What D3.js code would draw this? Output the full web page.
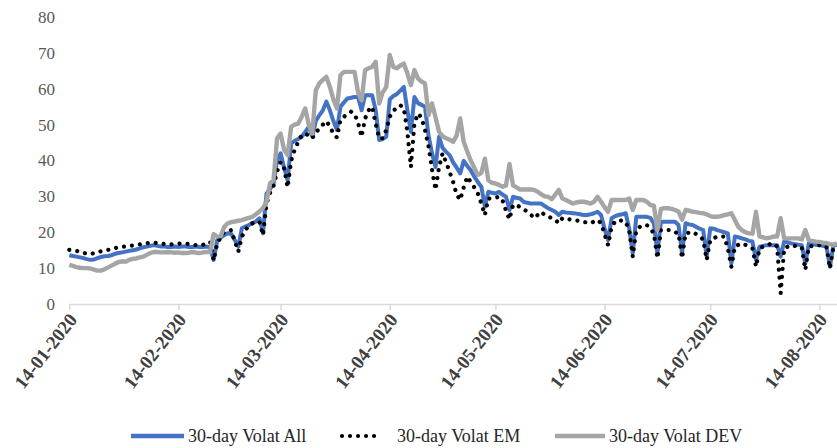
<!DOCTYPE html>
<html>
<head>
<meta charset="utf-8">
<script src="https://cdn.jsdelivr.net/npm/d3@7"></script>
<style>
  body { margin: 0; background: #fff; }
  svg { display: block; }
</style>
</head>
<body>
<svg id="chart" width="837" height="448"></svg>
<script>
// Daily series, one value per calendar day starting on startDate.
const startDate = "2020-01-14";
const tickDates = ["2020-01-14", "2020-02-14", "2020-03-14", "2020-04-14",
                   "2020-05-14", "2020-06-14", "2020-07-14", "2020-08-14"];
const yTicks = [0, 10, 20, 30, 40, 50, 60, 70, 80];
const seriesNames = ["30-day Volat All", "30-day Volat EM", "30-day Volat DEV"];

const volAll = [
  13.6, 13.4, 13.2, 13.0, 12.8, 12.5,
  12.3, 12.4, 12.8, 13.1, 13.3, 13.4, 13.6,
  14.0, 14.2, 14.4, 14.6, 14.8, 15.0, 15.2,
  15.5, 15.8, 16.0, 16.2, 16.4, 16.2, 16.0,
  16.0, 15.9, 15.9, 16.0, 15.9, 16.0, 16.0,
  15.9, 15.9, 16.0, 15.9, 15.9, 16.0, 15.8,
  12.3, 17.8, 18.5, 19.2, 19.7, 19.5, 17.8,
  16.0, 21.1, 21.6, 22.0, 22.5, 23.0, 23.9,
  19.7, 30.8, 32.0, 33.5, 40.0, 42.0, 38.0,
  34.5, 44.8, 45.5, 46.0, 46.6, 48.0, 49.4,
  46.6, 51.0, 52.6, 54.0, 56.4, 54.0, 51.0,
  48.5, 55.0, 56.2, 57.3, 57.5, 57.7, 57.7,
  54.0, 58.2, 58.2, 58.2, 54.0, 45.7, 46.0,
  46.6, 57.0, 58.0, 58.5, 59.5, 60.5, 54.0,
  48.0, 57.7, 56.0, 55.5, 55.0, 47.0, 42.0,
  38.2, 46.6, 43.5, 42.4, 41.5, 39.5, 38.0,
  36.4, 39.9, 38.5, 37.3, 35.5, 34.0, 32.7,
  27.1, 31.3, 31.0, 30.8, 31.3, 30.5, 29.9,
  26.2, 29.9, 29.6, 29.4, 28.5, 28.2, 28.0,
  28.0, 28.0, 28.0, 27.3, 26.7, 26.2, 25.7,
  24.8, 25.7, 25.5, 25.4, 25.3, 25.2, 25.0,
  24.8, 24.8, 25.0, 25.3, 25.7, 24.8, 21.0,
  17.8, 23.9, 24.5, 24.8, 25.0, 25.3, 21.0,
  14.1, 24.3, 24.3, 24.3, 24.3, 24.0, 22.5,
  14.1, 22.9, 22.9, 22.9, 22.9, 22.9, 22.0,
  14.1, 22.5, 22.2, 22.0, 21.5, 21.0, 20.6,
  13.2, 21.1, 21.0, 20.6, 20.3, 20.0, 19.7,
  11.3, 18.8, 18.6, 18.3, 18.0, 17.6, 17.4,
  12.3, 16.0, 16.2, 16.4, 16.4, 16.4, 16.4,
  13.2, 17.4, 17.2, 16.9, 16.7, 16.5, 16.4,
  11.3, 16.9, 16.7, 16.5, 16.4, 16.2, 16.0,
  10.4, 16.4, 16.5
];

const volEM = [
  15.1, 15.0, 14.8, 14.6, 14.3, 14.0,
  13.9, 14.2, 14.4, 14.7, 14.9, 15.1, 15.3,
  15.6, 15.8, 15.9, 16.1, 16.2, 16.3, 16.4,
  16.6, 16.8, 16.9, 17.1, 17.1, 17.0, 16.9,
  16.7, 16.6, 16.6, 16.7, 16.8, 16.9, 16.8,
  16.7, 16.6, 16.4, 16.3, 16.5, 17.2, 17.2,
  12.1, 16.9, 18.5, 20.1, 20.4, 20.6, 17.5,
  14.6, 18.8, 20.5, 22.0, 22.5, 22.9, 22.9,
  19.2, 28.0, 31.0, 33.0, 36.9, 39.6, 37.8,
  32.5, 40.0, 43.0, 45.2, 47.1, 47.5, 47.0,
  46.2, 48.0, 48.7, 50.0, 51.0, 49.4, 47.5,
  46.4, 51.3, 52.2, 53.0, 53.6, 53.0, 50.5,
  46.6, 51.7, 54.0, 55.0, 50.3, 46.2, 46.2,
  48.5, 52.2, 54.0, 54.5, 55.4, 54.5, 48.0,
  38.2, 50.3, 53.1, 52.0, 48.5, 44.0, 37.5,
  31.8, 38.2, 42.0, 39.5, 36.8, 34.0, 30.5,
  29.0, 32.5, 35.5, 34.0, 32.5, 30.8, 28.0,
  24.8, 29.4, 29.4, 29.6, 29.9, 29.0, 26.0,
  23.6, 27.6, 27.6, 27.0, 26.4, 25.8, 25.0,
  23.9, 24.8, 25.7, 24.8, 24.3, 24.0, 23.5,
  22.5, 23.9, 23.9, 23.6, 23.4, 23.3, 23.1,
  22.9, 22.7, 22.5, 23.0, 23.4, 22.5, 19.5,
  16.4, 21.5, 23.0, 23.4, 23.2, 22.9, 20.5,
  13.2, 20.6, 21.5, 22.0, 22.0, 21.0, 19.7,
  12.7, 20.6, 20.6, 20.6, 20.6, 20.0, 19.7,
  12.7, 19.7, 19.9, 20.1, 19.5, 18.8, 18.0,
  12.3, 17.8, 18.3, 18.8, 18.8, 18.8, 15.5,
  10.4, 16.0, 16.5, 16.9, 16.5, 16.0, 15.5,
  10.4, 15.5, 16.0, 16.4, 16.7, 16.9, 16.0,
  3.0, 15.5, 16.0, 16.4, 16.2, 16.0, 15.8,
  9.5, 16.0, 16.2, 16.4, 16.4, 16.2, 16.0,
  9.9, 16.0, 16.2
];

const volDEV = [
  10.9, 10.6, 10.3, 10.1, 10.0, 10.0,
  9.9, 9.6, 9.3, 9.3, 9.7, 10.2, 10.7,
  11.2, 11.7, 11.9, 11.8, 12.3, 12.6, 12.7,
  13.0, 13.2, 13.7, 14.2, 14.5, 14.5, 14.4,
  14.4, 14.5, 14.4, 14.3, 14.4, 14.2, 14.2,
  14.3, 14.5, 14.3, 14.2, 14.4, 14.5, 14.5,
  19.5, 18.8, 19.0, 21.5, 22.5, 22.8, 23.0,
  23.2, 23.4, 23.7, 24.0, 24.3, 25.0, 25.8,
  26.7, 28.5, 33.6, 34.5, 46.2, 47.5, 43.0,
  41.5, 49.4, 50.0, 50.3, 52.2, 54.5, 50.0,
  47.5, 59.6, 61.5, 62.5, 63.3, 60.5, 57.0,
  54.5, 63.8, 64.7, 64.7, 64.7, 64.7, 59.0,
  56.8, 65.2, 65.7, 66.1, 67.5, 55.9, 59.0,
  60.5, 69.4, 66.1, 65.7, 66.5, 67.0, 64.3,
  61.0, 65.2, 62.9, 62.0, 61.5, 52.6, 55.9,
  52.0, 48.0, 46.8, 46.2, 45.8, 45.2, 47.0,
  51.7, 45.2, 42.5, 40.0, 38.0, 36.0, 36.5,
  40.5, 34.5, 33.8, 33.6, 33.2, 32.7, 33.0,
  39.0, 33.1, 32.5, 31.9, 31.9, 31.9, 31.9,
  31.8, 31.3, 30.6, 30.0, 29.9, 29.2, 30.5,
  31.8, 29.4, 29.0, 28.5, 28.0, 28.3, 28.5,
  28.5, 28.3, 28.0, 28.5, 29.9, 28.5, 27.0,
  25.7, 29.0, 29.0, 29.0, 29.0, 29.0, 29.4,
  26.2, 29.0, 29.0, 29.0, 28.5, 27.6, 27.4,
  20.6, 26.5, 26.7, 26.7, 26.5, 26.2, 25.8,
  23.5, 26.2, 26.0, 25.7, 25.6, 25.4, 25.3,
  25.0, 24.5, 24.3, 24.3, 24.5, 24.8, 25.0,
  25.3, 23.4, 21.5, 20.6, 20.0, 19.7, 19.6,
  25.7, 18.8, 18.6, 18.3, 18.5, 18.8, 18.8,
  23.9, 18.3, 18.3, 18.3, 18.3, 18.3, 18.0,
  20.6, 17.8, 17.6, 17.4, 17.3, 17.1, 17.0,
  16.7, 16.5, 16.9
];

const FONT = "'Liberation Serif', 'Times New Roman', Times, serif";
const colors = { all: "#4472C4", em: "#000000", dev: "#A5A5A5" };

const svg = d3.select("#chart");
const parse = d3.utcParse("%Y-%m-%d");
const t0 = parse(startDate);
const dates = volAll.map((_, i) => d3.utcDay.offset(t0, i));

const x = d3.scaleUtc()
  .domain([t0, dates[dates.length - 1]])
  .range([69.3, 837]);
const y = d3.scaleLinear().domain([0, 80]).range([304, 17]);

// y-axis labels (no axis line, no gridlines)
const yAxis = d3.axisLeft(y).tickValues(yTicks).tickSize(0).tickPadding(0);
const gy = svg.append("g").attr("transform", "translate(55,0)").call(yAxis);
gy.select(".domain").remove();
gy.attr("font-family", null).attr("font-size", null);
gy.selectAll("text")
  .style("font-family", FONT)
  .style("font-size", "17px")
  .attr("fill", "#595959");

// x axis with rotated date labels
const xAxis = d3.axisBottom(x)
  .tickValues(tickDates.map(parse))
  .tickFormat(d3.utcFormat("%d-%m-%Y"))
  .tickSize(6)
  .tickSizeOuter(0);
const gx = svg.append("g").attr("transform", "translate(0,304)").call(xAxis);
gx.attr("font-family", null).attr("font-size", null);
gx.select(".domain").attr("stroke", "#D9D9D9").attr("stroke-width", 1.5);
gx.selectAll(".tick line").attr("stroke", "#D9D9D9").attr("stroke-width", 1.5);
gx.selectAll(".tick text")
  .style("font-family", FONT)
  .style("font-size", "19px")
  .style("font-weight", "bold")
  .attr("fill", "#404040")
  .attr("text-anchor", "end")
  .attr("x", 0).attr("y", 0).attr("dy", "0.35em")
  .attr("transform", "translate(3,12) rotate(-52)");

// series lines
const line = d3.line()
  .x((d, i) => x(dates[i]))
  .y(d => y(d));

const plot = svg.append("g")
  .attr("fill", "none")
  .attr("stroke-linejoin", "round");

plot.append("path")
  .datum(volAll)
  .attr("d", line)
  .attr("stroke", colors.all)
  .attr("stroke-width", 4);

plot.append("path")
  .datum(volEM)
  .attr("d", line)
  .attr("stroke", colors.em)
  .attr("stroke-width", 4.2)
  .attr("stroke-linecap", "round")
  .attr("stroke-dasharray", "0.01 8");

plot.append("path")
  .datum(volDEV)
  .attr("d", line)
  .attr("stroke", colors.dev)
  .attr("stroke-width", 4.4);

// legend: swatch start, swatch end, label start
const legendItems = [
  { name: seriesNames[0], color: colors.all, x0: 131, x1: 184, tx: 188, dotted: false },
  { name: seriesNames[1], color: colors.em, x0: 342, x1: 382, tx: 397, dotted: true },
  { name: seriesNames[2], color: colors.dev, x0: 555, x1: 605, tx: 609, dotted: false }
];
const legend = svg.append("g").attr("transform", "translate(0,436)");
legendItems.forEach(item => {
  const ln = legend.append("line")
    .attr("x1", item.x0).attr("x2", item.x1)
    .attr("y1", 0).attr("y2", 0)
    .attr("stroke", item.color);
  if (item.dotted) {
    ln.attr("stroke-width", 4.2)
      .attr("stroke-linecap", "round")
      .attr("stroke-dasharray", "0.01 8");
  } else {
    ln.attr("stroke-width", 4.4);
  }
  legend.append("text")
    .attr("x", item.tx)
    .attr("y", 0)
    .attr("dy", "0.35em")
    .style("font-family", FONT)
    .style("font-size", "18px")
    .attr("fill", "#262626")
    .text(item.name);
});
</script>
</body>
</html>
